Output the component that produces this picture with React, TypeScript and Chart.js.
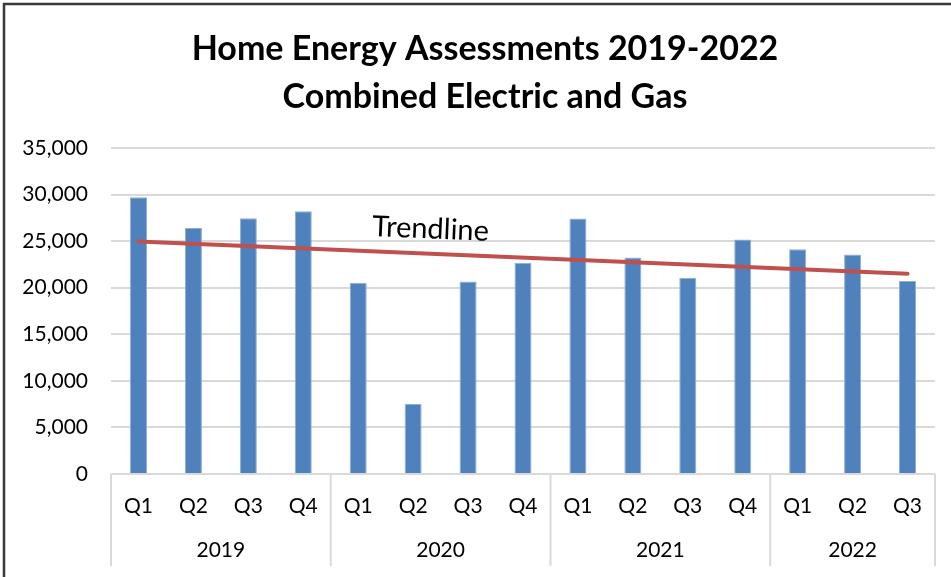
import React, { useEffect, useRef } from "react";
import { Chart, registerables } from "chart.js";

Chart.register(...registerables);

const quarters = ["Q1", "Q2", "Q3", "Q4", "Q1", "Q2", "Q3", "Q4", "Q1", "Q2", "Q3", "Q4", "Q1", "Q2", "Q3"];
const years = ["2019", "2020", "2021", "2022"];
const quartersPerYear = [4, 4, 4, 3];
const assessments = [29720, 26400, 27470, 28220, 20530, 7510, 20680, 22680, 27430, 23250, 21070, 25180, 24140, 23570, 20710];
// trendline endpoints (linear fit as drawn in the reference)
const trendline = [24960, null, null, null, null, null, null, null, null, null, null, null, null, null, 21510];
const yTicks = [0, 5000, 10000, 15000, 20000, 25000, 30000, 35000];
const titleLines = ["Home Energy Assessments 2019-2022", "Combined Electric and Gas"];
const trendLabel = "Trendline";
const trendLabelIndex = 5.31;
const trendLabelValue = 25300;

const FONT = "Lato, 'Open Sans', sans-serif";

const decorPlugin = {
  id: "decor",
  afterDraw(chart: any) {
    const { ctx, chartArea, scales } = chart;
    const x = scales.x;
    const y = scales.y;
    const half = (x.getPixelForValue(1) - x.getPixelForValue(0)) / 2;
    ctx.save();
    // frame
    ctx.strokeStyle = "#3a3a3a";
    ctx.lineWidth = 2.5;
    ctx.beginPath();
    ctx.moveTo(4, chart.height + 5);
    ctx.lineTo(4, 4);
    ctx.lineTo(chart.width + 5, 4);
    ctx.stroke();
    // title
    ctx.fillStyle = "#000";
    ctx.textAlign = "center";
    ctx.textBaseline = "alphabetic";
    ctx.font = `bold 34px ${FONT}`;
    ctx.fillText(titleLines[0], 485, 60);
    ctx.fillText(titleLines[1], 485, 107.5);
    // group separators and year labels
    ctx.strokeStyle = "#D9D9D9";
    ctx.lineWidth = 2;
    let start = 0;
    const bounds: number[] = [0];
    quartersPerYear.forEach((n) => {
      start += n;
      bounds.push(start);
    });
    bounds.forEach((b) => {
      const px = b < quarters.length ? x.getPixelForValue(b) - half : x.getPixelForValue(quarters.length - 1) + half;
      ctx.beginPath();
      ctx.moveTo(px, chartArea.bottom);
      ctx.lineTo(px, chartArea.bottom + 92);
      ctx.stroke();
    });
    ctx.font = `21px ${FONT}`;
    ctx.textBaseline = "middle";
    years.forEach((yr, i) => {
      const a = bounds[i];
      const b = bounds[i + 1] - 1;
      const cx = (x.getPixelForValue(a) + x.getPixelForValue(b)) / 2;
      ctx.fillText(yr, cx, chartArea.bottom + 76);
    });
    // trendline label
    const x0 = x.getPixelForValue(0);
    const x1 = x.getPixelForValue(quarters.length - 1);
    const y0 = y.getPixelForValue(trendline[0] as number);
    const y1 = y.getPixelForValue(trendline[quarters.length - 1] as number);
    const ang = Math.atan2(y1 - y0, x1 - x0);
    ctx.translate(x.getPixelForValue(trendLabelIndex), y.getPixelForValue(trendLabelValue));
    ctx.rotate(ang);
    ctx.font = `29px ${FONT}`;
    ctx.textBaseline = "alphabetic";
    ctx.fillText(trendLabel, 0, 0);
    ctx.restore();
  },
};

export default function App() {
  const ref = useRef<HTMLCanvasElement>(null);
  useEffect(() => {
    if (!ref.current) return;
    const chart = new Chart(ref.current, {
      type: "bar",
      data: {
        labels: quarters,
        datasets: [
          {
            type: "line",
            label: "Trendline",
            data: trendline,
            borderColor: "#C0504D",
            borderWidth: 4,
            borderCapStyle: "round",
            pointRadius: 0,
            spanGaps: true,
            order: 0,
          } as any,
          {
            type: "bar",
            label: "Assessments",
            data: assessments,
            backgroundColor: "#4F81BD",
            borderColor: "#8EAED6",
            borderWidth: 1,
            categoryPercentage: 1,
            barPercentage: 0.31,
            order: 1,
          },
        ],
      },
      options: {
        animation: false,
        responsive: false,
        layout: { padding: { top: 148, right: 16, bottom: 0, left: 0 } },
        plugins: { legend: { display: false }, title: { display: false }, tooltip: { enabled: false } },
        scales: {
          x: {
            grid: { display: false, drawTicks: false },
            border: { display: false },
            ticks: { color: "#000", font: { family: FONT, size: 21 }, padding: 20, maxRotation: 0, autoSkip: false },
            afterFit: (s: any) => {
              s.height = 103;
            },
          },
          y: {
            min: 0,
            max: 35000,
            grid: { color: "#D9D9D9", lineWidth: 2, drawTicks: false },
            border: { display: false },
            afterBuildTicks: (s: any) => {
              s.ticks = yTicks.map((v) => ({ value: v }));
            },
            ticks: {
              color: "#000",
              font: { family: FONT, size: 21 },
              padding: 23,
              callback: (v: any) => Number(v).toLocaleString("en-US"),
            },
            afterFit: (s: any) => {
              s.width = 111;
            },
          },
        },
      },
      plugins: [decorPlugin],
    });
    return () => chart.destroy();
  }, []);
  return (
    <div style={{ position: "absolute", left: 0, top: 0, width: 951, height: 577, background: "#fff" }}>
      <canvas ref={ref} width={951} height={577} />
    </div>
  );
}
